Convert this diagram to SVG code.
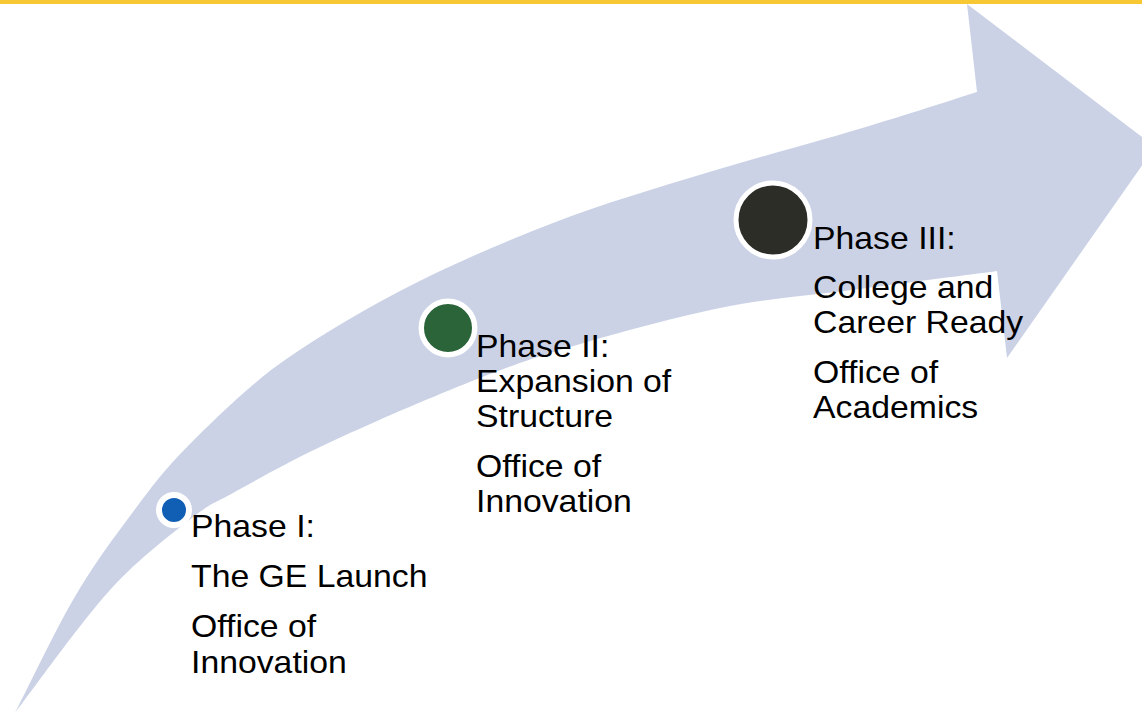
<svg xmlns="http://www.w3.org/2000/svg" width="1142" height="715" viewBox="0 0 1142 715">
<style>
.lbl{font-family:"Liberation Sans",Arial,sans-serif;font-size:31px;fill:#000}
.dot{stroke:#fff}
</style>
<rect width="1142" height="715" fill="#fff"/>
<g id="connectors">
<path id="arrow" fill="#CBD2E6" d="M15,713 C24.7,694.2 54.3,632.2 73,600 C91.7,567.8 108,545.5 127,520 C146,494.5 162,472 187,447 C212,422 236,398 271,370 C306,344 352.3,316 400,291 C447.7,266 502,242.7 553,223 C604,203.3 655,188.5 706,173 C757,157.5 813.8,142.5 859,129 C904.2,115.5 957.3,98.3 977,92 L967,4 L1155,147 L1007,358 L997,271 C974.2,274 906.2,282.8 860,289 C813.8,295.2 770,297.8 720,308 C670,318.2 605,336.3 560,350 C515,363.7 490,373.8 450,390 C410,406.2 356.2,429.8 320,447 C283.8,464.2 254.3,481.2 233,493 C211.7,504.8 212.5,501.8 192,518 C171.5,534.2 139.5,557.5 110,590 C80.5,622.5 30.8,692.5 15,713 Z"/>
</g>
<rect x="0" y="0" width="1142" height="4" fill="#F7C833"/>
<g id="phase1">
<circle class="dot" cx="174" cy="510" r="15" fill="#115EB5" stroke-width="6"/>
<text class="lbl" transform="translate(191 0) scale(1.09 1)"><tspan x="0" y="537">Phase I:</tspan><tspan x="0" y="587">The GE Launch</tspan><tspan x="0" y="637">Office of</tspan><tspan x="0" y="673">Innovation</tspan></text>
</g>
<g id="phase2">
<circle class="dot" cx="448" cy="328" r="26.75" fill="#2A6438" stroke-width="5.5"/>
<text class="lbl" transform="translate(476 0) scale(1.09 1)"><tspan x="0" y="357">Phase II:</tspan><tspan x="0" y="392">Expansion of</tspan><tspan x="0" y="427">Structure</tspan><tspan x="0" y="477">Office of</tspan><tspan x="0" y="512">Innovation</tspan></text>
</g>
<g id="phase3">
<circle class="dot" cx="773" cy="220" r="37" fill="#2D2D28" stroke-width="5"/>
<text class="lbl" transform="translate(813 0) scale(1.09 1)"><tspan x="0" y="249">Phase III:</tspan><tspan x="0" y="298">College and</tspan><tspan x="0" y="333">Career Ready</tspan><tspan x="0" y="383">Office of</tspan><tspan x="0" y="418">Academics</tspan></text>
</g>
</svg>
